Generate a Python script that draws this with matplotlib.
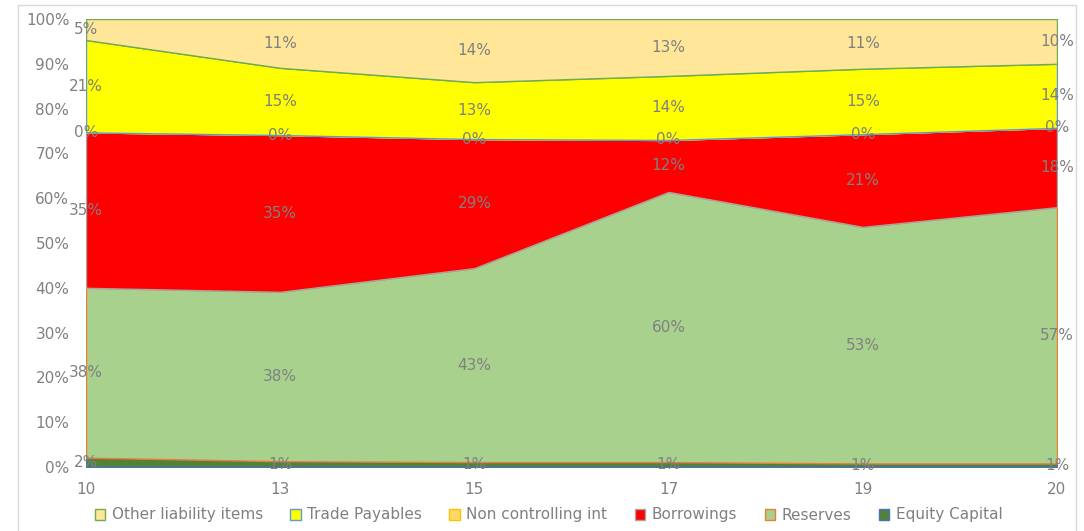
import matplotlib.pyplot as plt
from matplotlib.patches import Patch, Rectangle

# liability mix by year, % of total
years = ["10", "13", "15", "17", "19", "20"]
equity_capital = [2.1, 1.3, 1.1, 1.1, 0.8, 0.8]
reserves = [37.9, 37.8, 43.3, 60.3, 52.8, 57.2]
borrowings = [34.7, 35.0, 28.8, 11.6, 20.7, 17.7]
non_controlling = [0.0, 0.0, 0.0, 0.0, 0.0, 0.0]
trade_payables = [20.6, 15.0, 12.7, 14.3, 14.6, 14.3]
other_items = [4.7, 10.9, 14.1, 12.7, 11.1, 10.0]

series = [
    ("Equity Capital", equity_capital, "#548235", "#4472C4"),
    ("Reserves", reserves, "#A9D18E", "#ED7D31"),
    ("Borrowings", borrowings, "#FF0000", "#A5A5A5"),
    ("Non controlling int", non_controlling, "#FFD966", "#FFC000"),
    ("Trade Payables", trade_payables, "#FFFF00", "#5B9BD5"),
    ("Other liability items", other_items, "#FFE699", "#70AD47"),
]

grey = "#808080"
plt.rcParams["font.family"] = "DejaVu Sans"
plt.rcParams["font.size"] = 11

fig = plt.figure(figsize=(10.84, 5.31), dpi=100)
ax = fig.add_axes([86 / 1084, 1 - 467 / 531, (1057 - 86) / 1084, (467 - 19) / 531])

x = list(range(len(years)))
base = [0.0] * len(years)
for name, vals, fill, edge in series:
    top = [b + v for b, v in zip(base, vals)]
    ax.fill_between(x, [b / 100 for b in base], [t / 100 for t in top],
                    facecolor=fill, edgecolor=edge, linewidth=1)
    for xi, b, v in zip(x, base, vals):
        ax.text(xi, (b + v / 2) / 100, f"{round(v):.0f}%", ha="center", va="center",
                color=grey, fontsize=11, clip_on=False)
    base = top

ax.set_xlim(0, len(years) - 1)
ax.set_ylim(0, 1)
ax.set_xticks(x)
ax.set_xticklabels(years)
ax.set_yticks([i / 10 for i in range(11)])
ax.set_yticklabels([f"{i * 10}%" for i in range(11)])
ax.tick_params(length=0, colors=grey, labelsize=11)
ax.tick_params(axis="x", pad=11)
ax.tick_params(axis="y", pad=12)
for s in ax.spines.values():
    s.set_visible(False)

handles = [Patch(facecolor=fill, edgecolor=edge, label=name)
           for name, _, fill, edge in reversed(series)]
leg = fig.legend(handles=handles, loc="center", bbox_to_anchor=(0.506, 1 - 515 / 531),
                 ncol=6, frameon=False, handlelength=0.7, handleheight=0.7,
                 handletextpad=0.4, columnspacing=1.8, fontsize=11)
for t in leg.get_texts():
    t.set_color(grey)

# chart border
fig.patches.append(Rectangle((18 / 1084, -0.02), (1076 - 18) / 1084, 1.02 - 5 / 531,
                             transform=fig.transFigure, fill=False,
                             edgecolor="#D9D9D9", linewidth=1))

fig.savefig("out.png", dpi=100)
